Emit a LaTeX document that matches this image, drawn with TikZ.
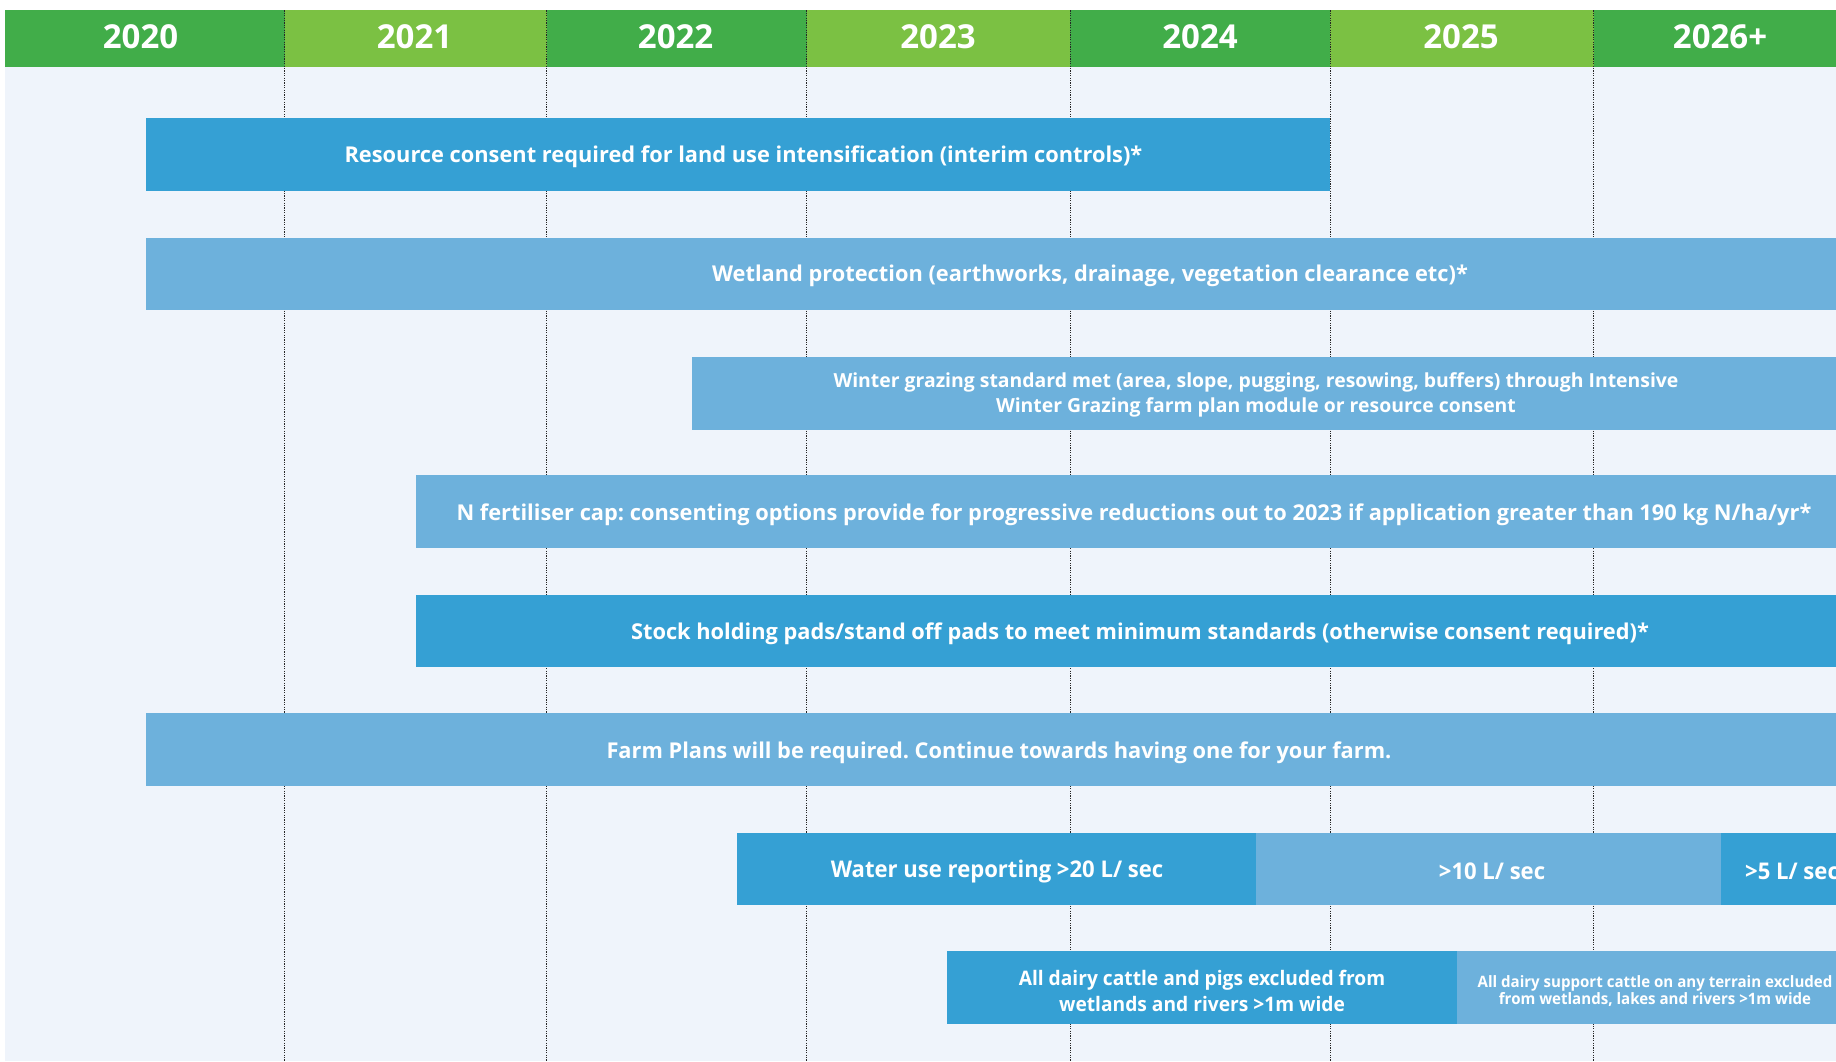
\documentclass[tikz,border=0pt]{standalone}
\usepackage{fontspec}
\setmainfont{Open Sans}
\newfontfamily\condfont{Open Sans}[FakeStretch=0.96]
\definecolor{dgreen}{HTML}{41AD49}
\definecolor{lgreen}{HTML}{7BC143}
\definecolor{bgc}{HTML}{EFF4FB}
\definecolor{dblue}{HTML}{35A0D4}
\definecolor{lblue}{HTML}{6DB1DC}
\begin{document}
\frenchspacing
\begin{tikzpicture}[x=1pt,y=-1pt,
  cell/.style={inner sep=0pt, outer sep=0pt, anchor=north west, minimum height=56.5pt},
  bar/.style={inner sep=0pt, outer sep=0pt, anchor=north west, minimum height=72.6pt},
  divider/.style={draw=black!85, line width=1pt, dash pattern=on 1.2pt off 1.2pt},
  yr/.style={text=white, font=\fontsize{33}{40}\selectfont\bfseries, inner sep=0pt},
  btxt/.style={text=white, font=\fontsize{21.8}{26}\selectfont\bfseries, inner sep=0pt, align=center},
  wtxt/.style={text=white, font=\fontsize{19.4}{24.6}\selectfont\bfseries, inner sep=0pt, align=center},
  ctxt/.style={text=white, font=\condfont\fontsize{23}{27}\selectfont\bfseries, inner sep=0pt, align=center},
  dtxt/.style={text=white, font=\condfont\fontsize{20}{25.7}\selectfont\bfseries, inner sep=0pt, align=center},
  stxt/.style={text=white, font=\condfont\fontsize{15.7}{17.6}\selectfont\bfseries, inner sep=0pt, align=center}
]
\useasboundingbox (0,0) rectangle (1836,1062);
\clip (0,0) rectangle (1836,1062);
\fill[white] (0,0) rectangle (1836,1062);
\fill[bgc] (5,10.5) rectangle (1836,1060.5);
% header cells
\node[cell, fill=dgreen, minimum width=279.5pt] (h0) at (5,10.5) {};
\node[cell, fill=lgreen, minimum width=262.3pt] (h1) at (284.5,10.5) {};
\node[cell, fill=dgreen, minimum width=259.9pt] (h2) at (546.8,10.5) {};
\node[cell, fill=lgreen, minimum width=263.5pt] (h3) at (806.7,10.5) {};
\node[cell, fill=dgreen, minimum width=259.9pt] (h4) at (1070.2,10.5) {};
\node[cell, fill=lgreen, minimum width=263.5pt] (h5) at (1330.1,10.5) {};
\node[cell, fill=dgreen, minimum width=260pt] (h6) at (1593.6,10.5) {};
\node[yr] (y0) at (140.5,36.3) {2020};
\node[yr] (y1) at (414.5,36.3) {2021};
\node[yr] (y2) at (675.6,36.3) {2022};
\node[yr] (y3) at (938,36.3) {2023};
\node[yr] (y4) at (1200,36.3) {2024};
\node[yr] (y5) at (1461,36.3) {2025};
\node[yr] (y6) at (1720,36.3) {2026+};
% dividers
\foreach \x in {284.5,546.8,806.7,1070.2,1330.1,1593.6}
  \draw[divider] (\x,10.5) -- (\x,1060.5);
% bars
\node[bar, fill=dblue, minimum width=1183.7pt] (b1) at (146.4,118.3) {};
\node[bar, fill=lblue, minimum width=1720pt] (b2) at (146.4,237.7) {};
\node[bar, fill=lblue, minimum width=1200pt] (b3) at (692,357.1) {};
\node[bar, fill=lblue, minimum width=1450pt] (b4) at (415.7,475.4) {};
\node[bar, fill=dblue, minimum width=1450pt] (b5) at (415.7,594.8) {};
\node[bar, fill=lblue, minimum width=1720pt] (b6) at (146.4,713) {};
\node[bar, fill=dblue, minimum width=519.9pt] (b7a) at (736.5,832.5) {};
\node[bar, fill=lblue, minimum width=464.9pt] (b7b) at (1256.4,832.5) {};
\node[bar, fill=dblue, minimum width=200pt] (b7c) at (1721.3,832.5) {};
\node[bar, fill=dblue, minimum width=509.3pt, minimum height=73.5pt] (b8a) at (947.3,950.8) {};
\node[bar, fill=lblue, minimum width=420pt, minimum height=73.5pt] (b8b) at (1456.6,950.8) {};
% texts
\node[btxt] (t1) at (743.5,157) {Resource consent required for land use intensification (interim controls)*};
\node[btxt] (t2) at (1090,276) {Wetland protection (earthworks, drainage, vegetation clearance etc)*};
\node[wtxt] (t3) at (1256,395) {Winter grazing standard met (area, slope, pugging, resowing, buffers) through Intensive\\Winter Grazing farm plan module or resource consent};
\node[btxt] (t4) at (1134,514.5) {N fertiliser cap: consenting options provide for progressive reductions out to 2023 if application greater than 190 kg N/ha/yr*};
\node[btxt] (t5) at (1140,633.5) {Stock holding pads/stand off pads to meet minimum standards (otherwise consent required)*};
\node[btxt] (t6) at (999,752.5) {Farm Plans will be required. Continue towards having one for your farm.};
\node[ctxt] (t7a) at (997,871.5) {Water use reporting >20 L/ sec};
\node[ctxt] (t7b) at (1492,871.5) {>10 L/ sec};
\node[ctxt, anchor=west] (t7c) at (1745,871.5) {>5 L/ sec};
\node[dtxt] (t8a) at (1202,990.6) {All dairy cattle and pigs excluded from\\wetlands and rivers >1m wide};
\node[stxt] (t8b) at (1655,991) {All dairy support cattle on any terrain excluded\\from wetlands, lakes and rivers >1m wide};
\end{tikzpicture}
\end{document}
